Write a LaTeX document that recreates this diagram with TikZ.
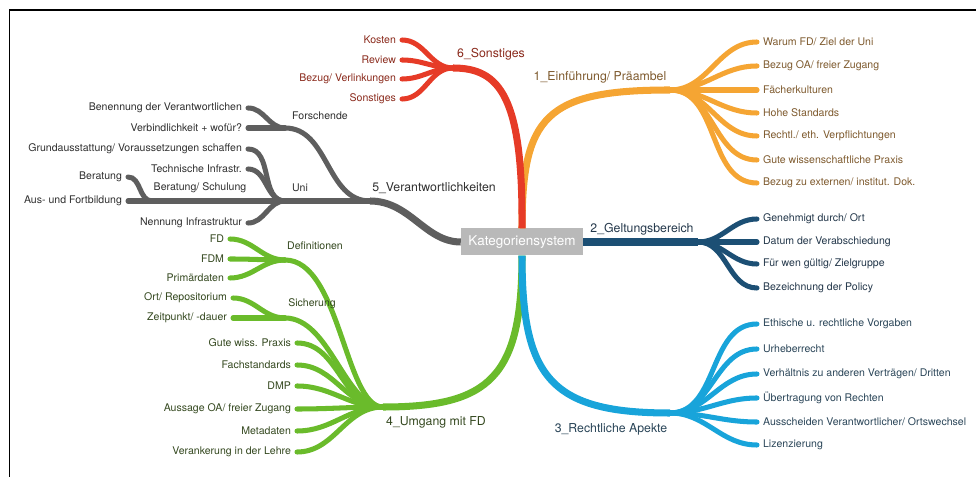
\documentclass[tikz,border=0pt]{standalone}
\usepackage{fontspec}
\setmainfont{TeX Gyre Heros}

\definecolor{einf}{HTML}{F5A533}
\definecolor{einftext}{HTML}{7E5A2E}
\definecolor{gelt}{HTML}{1C4F74}
\definecolor{gelttext}{HTML}{23374A}
\definecolor{recht}{HTML}{18A4DA}
\definecolor{rechttext}{HTML}{2A4558}
\definecolor{umg}{HTML}{6ABB2B}
\definecolor{umgtext}{HTML}{34481F}
\definecolor{verant}{HTML}{5E5E5E}
\definecolor{veranttext}{HTML}{2F2F2F}
\definecolor{sonst}{HTML}{E63B27}
\definecolor{sonsttext}{HTML}{8A2A1C}

\begin{document}
\begin{tikzpicture}[x=0.03cm, y=0.03cm,
        ast/.style={line width=6pt, line cap=butt},
        zweig/.style={line width=4.3pt, line cap=round},
        blatt/.style={inner xsep=5pt, inner ysep=1pt, font=\fontsize{9}{10}\selectfont},
        titel/.style={inner sep=1pt, font=\fontsize{10.5}{12}\selectfont}]

        % 画布和边框
        \useasboundingbox (0,0) rectangle (976,477);
        \draw[line width=1.2pt] (9.5,0) -- (9.5,467) -- (976,467);

        % 中心节点
        \node[fill=gray!55, text=white, minimum width=3.66cm, minimum height=0.81cm, inner sep=0pt,
            font=\fontsize{11.5}{13}\selectfont] (K) at (522,235) {Kategoriensystem};

        % 各分支的汇合点
        \coordinate (A) at (670,387);
        \coordinate (B) at (698,235);
        \coordinate (C) at (670,64);
        \coordinate (D) at (383,70);
        \coordinate (E) at (370,276);
        \coordinate (F) at (453,409);
        \coordinate (Da) at (285,217);
        \coordinate (Db) at (285,159);
        \coordinate (Ea) at (285,349);
        \coordinate (Eb) at (285,276);
        \coordinate (Ec) at (152,276);

        % 主分支
        \draw[ast, einf] (K.north) .. controls (522,360) and (545,387) .. (A);
        \draw[ast, sonst] (K.north) .. controls (523,380) and (500,409) .. (F);
        \draw[ast, gelt] (K.east) -- (B);
        \draw[ast, umg] (K.south) .. controls (522,100) and (490,70) .. (D);
        \draw[ast, recht] (K.south) .. controls (522,100) and (550,64) .. (C);
        \draw[ast, verant] (K.west) .. controls (425,235) and (410,276) .. (E);

        % 1_Einführung/ Präambel
        \node[titel, text=einftext] (einf) at (600,400) {1\_Einführung/ Präambel};
        \node[blatt, anchor=west, text=einftext] (einf1) at (757,435) {Warum FD/ Ziel der Uni};
        \node[blatt, anchor=west, text=einftext] (einf2) at (757,411) {Bezug OA/ freier Zugang};
        \node[blatt, anchor=west, text=einftext] (einf3) at (757,387) {Fächerkulturen};
        \node[blatt, anchor=west, text=einftext] (einf4) at (757,364) {Hohe Standards};
        \node[blatt, anchor=west, text=einftext] (einf5) at (757,341) {Rechtl./ eth. Verpflichtungen};
        \node[blatt, anchor=west, text=einftext] (einf6) at (757,317) {Gute wissenschaftliche Praxis};
        \node[blatt, anchor=west, text=einftext] (einf7) at (757,294) {Bezug zu externen/ institut. Dok.};
        \draw[zweig, einf] (A) to[out=0, in=180] (einf1.west);
        \draw[zweig, einf] (A) to[out=0, in=180] (einf2.west);
        \draw[zweig, einf] (A) -- (einf3.west);
        \draw[zweig, einf] (A) to[out=0, in=180] (einf4.west);
        \draw[zweig, einf] (A) to[out=0, in=180] (einf5.west);
        \draw[zweig, einf] (A) to[out=0, in=180] (einf6.west);
        \draw[zweig, einf] (A) to[out=0, in=180] (einf7.west);

        % 2_Geltungsbereich
        \node[titel, text=gelttext] (gelt) at (642,248) {2\_Geltungsbereich};
        \node[blatt, anchor=west, text=gelttext] (gelt1) at (757,258) {Genehmigt durch/ Ort};
        \node[blatt, anchor=west, text=gelttext] (gelt2) at (757,235) {Datum der Verabschiedung};
        \node[blatt, anchor=west, text=gelttext] (gelt3) at (757,213) {Für wen gültig/ Zielgruppe};
        \node[blatt, anchor=west, text=gelttext] (gelt4) at (757,189) {Bezeichnung der Policy};
        \draw[zweig, gelt] (B) to[out=0, in=180] (gelt1.west);
        \draw[zweig, gelt] (B) -- (gelt2.west);
        \draw[zweig, gelt] (B) to[out=0, in=180] (gelt3.west);
        \draw[zweig, gelt] (B) to[out=0, in=180] (gelt4.west);

        % 3_Rechtliche Apekte
        \node[titel, text=rechttext] (recht) at (611,48) {3\_Rechtliche Apekte};
        \node[blatt, anchor=west, text=rechttext] (recht1) at (757,153) {Ethische u. rechtliche Vorgaben};
        \node[blatt, anchor=west, text=rechttext] (recht2) at (757,128) {Urheberrecht};
        \node[blatt, anchor=west, text=rechttext] (recht3) at (757,103) {Verhältnis zu anderen Verträgen/ Dritten};
        \node[blatt, anchor=west, text=rechttext] (recht4) at (757,79) {Übertragung von Rechten};
        \node[blatt, anchor=west, text=rechttext] (recht5) at (757,55) {Ausscheiden Verantwortlicher/ Ortswechsel};
        \node[blatt, anchor=west, text=rechttext] (recht6) at (757,32) {Lizenzierung};
        \draw[zweig, recht] (C) to[out=0, in=180] (recht1.west);
        \draw[zweig, recht] (C) to[out=0, in=180] (recht2.west);
        \draw[zweig, recht] (C) to[out=0, in=180] (recht3.west);
        \draw[zweig, recht] (C) to[out=0, in=180] (recht4.west);
        \draw[zweig, recht] (C) to[out=0, in=180] (recht5.west);
        \draw[zweig, recht] (C) to[out=0, in=180] (recht6.west);

        % 4_Umgang mit FD
        \node[titel, text=umgtext] (umg) at (436,55) {4\_Umgang mit FD};
        \draw[zweig, umg] (D) .. controls (345,70) and (340,217) .. (Da);
        \draw[zweig, umg] (D) .. controls (345,70) and (330,159) .. (Db);
        \node[blatt, anchor=east, text=umgtext] (umg1) at (297,134) {Gute wiss. Praxis};
        \node[blatt, anchor=east, text=umgtext] (umg2) at (297,112) {Fachstandards};
        \node[blatt, anchor=east, text=umgtext] (umg3) at (297,91) {DMP};
        \node[blatt, anchor=east, text=umgtext] (umg4) at (297,68) {Aussage OA/ freier Zugang};
        \node[blatt, anchor=east, text=umgtext] (umg5) at (297,46) {Metadaten};
        \node[blatt, anchor=east, text=umgtext] (umg6) at (297,25) {Verankerung in der Lehre};
        \draw[zweig, umg] (D) to[out=180, in=0] (umg1.east);
        \draw[zweig, umg] (D) to[out=180, in=0] (umg2.east);
        \draw[zweig, umg] (D) to[out=180, in=0] (umg3.east);
        \draw[zweig, umg] (D) to[out=180, in=0] (umg4.east);
        \draw[zweig, umg] (D) to[out=180, in=0] (umg5.east);
        \draw[zweig, umg] (D) to[out=180, in=0] (umg6.east);

        % Definitionen 和 Sicherung
        \node[blatt, text=umgtext] (def) at (315,231) {Definitionen};
        \node[blatt, anchor=east, text=umgtext] (def1) at (230,238) {FD};
        \node[blatt, anchor=east, text=umgtext] (def2) at (230,218) {FDM};
        \node[blatt, anchor=east, text=umgtext] (def3) at (230,199) {Primärdaten};
        \draw[zweig, umg] (Da) to[out=180, in=0] (def1.east);
        \draw[zweig, umg] (Da) to[out=180, in=0] (def2.east);
        \draw[zweig, umg] (Da) to[out=180, in=0] (def3.east);
        \node[blatt, text=umgtext] (sich) at (312,173) {Sicherung};
        \node[blatt, anchor=east, text=umgtext] (sich1) at (233,179) {Ort/ Repositorium};
        \node[blatt, anchor=east, text=umgtext] (sich2) at (233,159) {Zeitpunkt/ -dauer};
        \draw[zweig, umg] (Db) to[out=180, in=0] (sich1.east);
        \draw[zweig, umg] (Db) -- (sich2.east);

        % 5_Verantwortlichkeiten
        \node[titel, text=veranttext] (verant) at (434,289) {5\_Verantwortlichkeiten};
        \draw[zweig, verant] (E) to[out=180, in=0] (Ea);
        \draw[zweig, verant] (E) -- (Eb);
        \node[blatt, text=veranttext] (forsch) at (320,361) {Forschende};
        \node[blatt, anchor=east, text=veranttext] (forsch1) at (248,369) {Benennung der Verantwortlichen};
        \node[blatt, anchor=east, text=veranttext] (forsch2) at (248,349) {Verbindlichkeit + wofür?};
        \draw[zweig, verant] (Ea) to[out=180, in=0] (forsch1.east);
        \draw[zweig, verant] (Ea) -- (forsch2.east);
        \node[blatt, text=veranttext] (uni) at (300,289) {Uni};
        \node[blatt, anchor=east, text=veranttext] (uni1) at (248,328) {Grundausstattung/ Voraussetzungen schaffen};
        \node[blatt, anchor=east, text=veranttext] (uni2) at (248,308) {Technische Infrastr.};
        \node[blatt, anchor=east, text=veranttext] (uni3) at (248,254) {Nennung Infrastruktur};
        \draw[zweig, verant] (Eb) to[out=180, in=0] (uni1.east);
        \draw[zweig, verant] (Eb) to[out=180, in=0] (uni2.east);
        \draw[zweig, verant] (Eb) to[out=180, in=0] (uni3.east);
        \draw[zweig, verant] (Eb) -- (Ec);
        \node[blatt, text=veranttext] (ber) at (200,289) {Beratung/ Schulung};
        \node[blatt, anchor=east, text=veranttext] (ber1) at (128,300) {Beratung};
        \node[blatt, anchor=east, text=veranttext] (ber2) at (128,276) {Aus- und Fortbildung};
        \draw[zweig, verant] (Ec) to[out=180, in=0] (ber1.east);
        \draw[zweig, verant] (Ec) -- (ber2.east);

        % 6_Sonstiges
        \node[titel, text=sonsttext] (sonst) at (491,423) {6\_Sonstiges};
        \node[blatt, anchor=east, text=sonsttext] (sonst1) at (402,437) {Kosten};
        \node[blatt, anchor=east, text=sonsttext] (sonst2) at (402,417) {Review};
        \node[blatt, anchor=east, text=sonsttext] (sonst3) at (402,398) {Bezug/ Verlinkungen};
        \node[blatt, anchor=east, text=sonsttext] (sonst4) at (402,378) {Sonstiges};
        \draw[zweig, sonst] (F) to[out=180, in=0] (sonst1.east);
        \draw[zweig, sonst] (F) to[out=180, in=0] (sonst2.east);
        \draw[zweig, sonst] (F) to[out=180, in=0] (sonst3.east);
        \draw[zweig, sonst] (F) to[out=180, in=0] (sonst4.east);
    \end{tikzpicture}
\end{document}
